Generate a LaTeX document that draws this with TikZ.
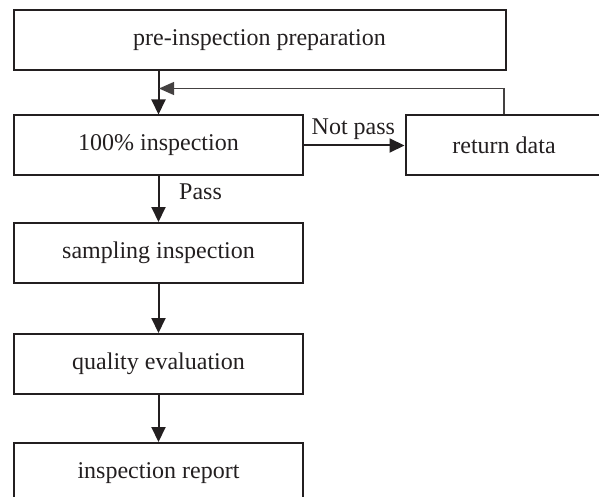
\documentclass[tikz,border=0pt]{standalone}
\usepackage{fontspec}
\setmainfont{Liberation Serif}
\usetikzlibrary{arrows.meta}
\definecolor{ink}{HTML}{231F20}
\begin{document}
\begin{tikzpicture}[x=1pt,y=-1pt,
  box/.style={draw=ink,line width=2pt,rectangle,inner sep=0pt,minimum height=60pt,
    font=\fontsize{24pt}{28pt}\selectfont,text=ink},
  flow/.style={draw=ink,line width=2pt,-{Triangle[length=15pt,width=14pt]}},
  back/.style={draw=ink!85,line width=1.1pt,-{Triangle[length=15pt,width=13pt]}},
  lbl/.style={inner sep=0pt,font=\fontsize{24pt}{28pt}\selectfont,text=ink}]
\useasboundingbox (0,0) rectangle (599,497);
\clip (0,0) rectangle (599,497);
\node[box,minimum width=492pt] (prep) at (259.5,40.5) {pre-inspection preparation};
\node[box,minimum width=289pt] (full) at (158.5,145.5) {100\% inspection};
\node[box,minimum width=197pt] (ret) at (504,145.5) {return data};
\node[box,minimum width=289pt] (samp) at (158.5,253) {sampling inspection};
\node[box,minimum width=289pt] (qual) at (158.5,364) {quality evaluation};
\node[box,minimum width=289pt] (rep) at (158.5,473) {inspection report};
\coordinate (fb) at (159,88.5);
\draw[flow] (full.north |- prep.south) -- (full.north);
\draw[back] (ret.north) |- (fb);
\draw[flow] (full.east) -- (ret.west);
\draw[flow] (full.south) -- (samp.north);
\draw[flow] (samp.south) -- (qual.north);
\draw[flow] (qual.south) -- (rep.north);
\node[lbl,anchor=base west] (np) at (311.5,135) {Not pass};
\node[lbl,anchor=base west] (ps) at (179,199) {Pass};
\end{tikzpicture}
\end{document}
